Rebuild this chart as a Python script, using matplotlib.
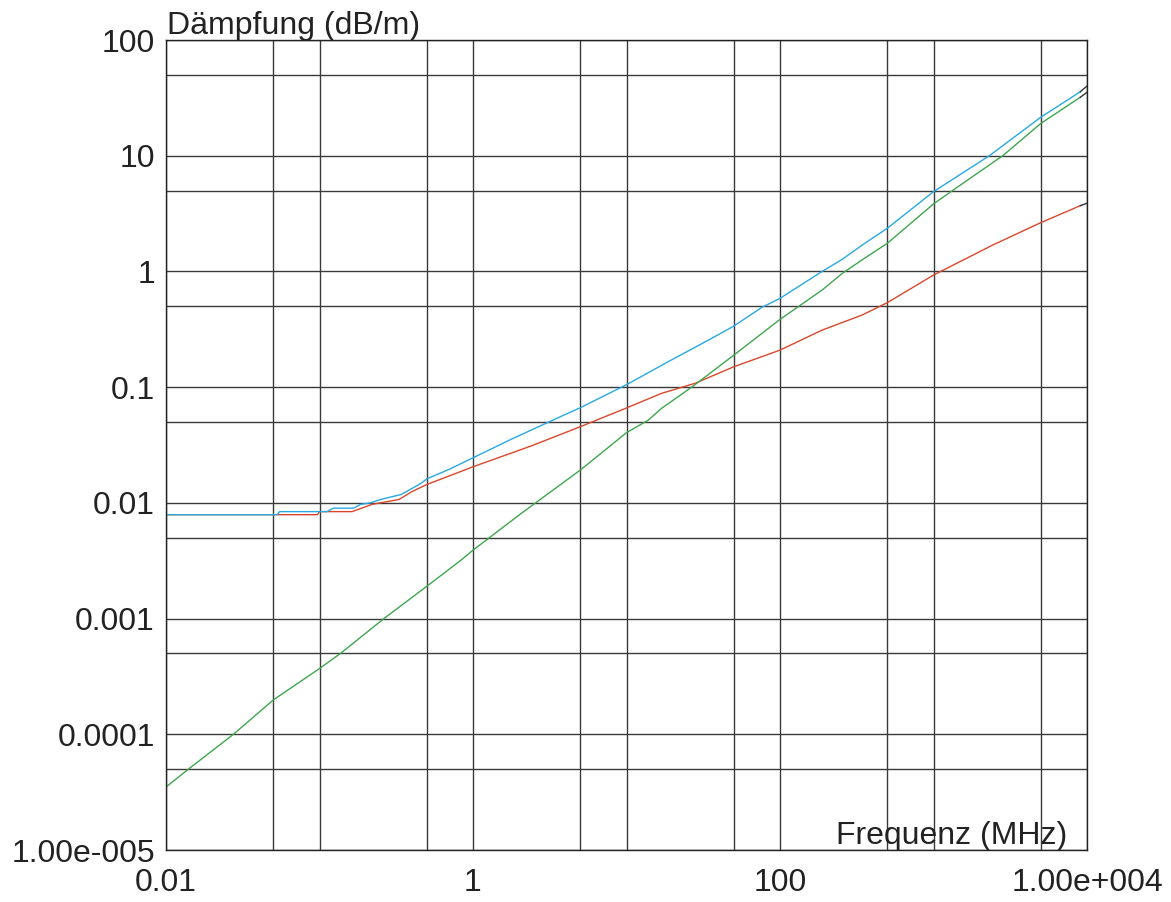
import numpy as np
import matplotlib
matplotlib.use("Agg")
import matplotlib.pyplot as plt
from matplotlib.ticker import FixedLocator, FixedFormatter, NullFormatter

plt.rcParams['font.family'] = ['Liberation Sans', 'DejaVu Sans']

# values (frequency in MHz, attenuation in dB/m)
blue_f = [0.01, 0.053, 0.055, 0.112, 0.123, 0.167, 0.185, 0.215, 0.25, 0.34, 0.457, 0.5, 0.7,
          1.0, 1.77, 3.4, 5.0, 10, 18.7, 34.2, 50, 76.3, 100, 188, 254, 343, 500, 1000,
          2312, 5000, 9040]
blue_v = [0.0079, 0.0079, 0.0084, 0.0084, 0.0090, 0.0090, 0.0097, 0.0100, 0.0107, 0.0118,
          0.0147, 0.0161, 0.0195, 0.0245, 0.0354, 0.0527, 0.0664, 0.105, 0.166, 0.255, 0.337,
          0.49, 0.585, 1.0, 1.27, 1.69, 2.36, 4.89, 10, 21.5, 35.7]

red_f = [0.01, 0.097, 0.10, 0.163, 0.22, 0.33, 0.40, 0.5, 1.0, 2.39, 5, 9.27, 16.9, 28, 50,
         100, 188, 343, 500, 1000, 2430, 5000, 9040]
red_v = [0.0079, 0.0079, 0.0084, 0.0084, 0.0097, 0.0107, 0.0125, 0.0144, 0.0205, 0.031,
         0.0455, 0.0634, 0.0883, 0.108, 0.15, 0.209, 0.311, 0.42, 0.537, 0.93, 1.69, 2.64, 3.7]

green_f = [0.01, 0.014, 0.0275, 0.05, 0.1, 0.137, 0.263, 0.5, 0.836, 1.0, 2.06, 5, 10, 13.9,
           16.9, 26.6, 50, 100, 188, 254, 343, 500, 1000, 1330, 2825, 5000, 9040]
green_v = [3.5e-5, 5e-5, 1e-4, 1.98e-4, 3.7e-4, 5e-4, 1e-3, 1.9e-3, 3.2e-3, 3.9e-3, 8.1e-3,
           0.0192, 0.0404, 0.052, 0.0655, 0.1, 0.189, 0.385, 0.69, 0.96, 1.26, 1.75, 3.83, 5,
           10, 19, 32]

# last segment of each curve is drawn in black in the original
tail_f = [9040, 10000]
blue_tail = [35.7, 40]
green_tail = [32, 35.3]
red_tail = [3.7, 3.88]

x_ticks = [0.01, 0.1, 1, 10, 100, 1000, 10000]
x_labels = ['0.01', '', '1', '', '100', '', '1.00e+004']
y_ticks = [1e-5, 1e-4, 1e-3, 1e-2, 1e-1, 1, 10, 100]
y_labels = ['1.00e-005', '0.0001', '0.001', '0.01', '0.1', '1', '10', '100']

fig = plt.figure(figsize=(11.71, 9.02), dpi=100)
ax = fig.add_axes([166 / 1171, 52 / 902, 921 / 1171, 810 / 902])

ax.set_xscale('log')
ax.set_yscale('log')
ax.set_xlim(0.01, 10000)
ax.set_ylim(1e-5, 100)

# red and green first, blue on top (blue hides red in the flat part)
ax.plot(red_f, red_v, color='#d9472b', lw=1.0)
ax.plot(green_f, green_v, color='#3ea64e', lw=1.0)
ax.plot(blue_f, blue_v, color='#27a9e1', lw=1.0)
for tv in (blue_tail, green_tail, red_tail):
    ax.plot(tail_f, tv, color='#333333', lw=1.0)

# grid at 1 and 5 per decade
ax.xaxis.set_major_locator(FixedLocator(x_ticks))
ax.xaxis.set_major_formatter(FixedFormatter(x_labels))
ax.xaxis.set_minor_locator(FixedLocator([5 * t for t in x_ticks[:-1]]))
ax.xaxis.set_minor_formatter(NullFormatter())
ax.yaxis.set_major_locator(FixedLocator(y_ticks))
ax.yaxis.set_major_formatter(FixedFormatter(y_labels))
ax.yaxis.set_minor_locator(FixedLocator([5 * t for t in y_ticks[:-1]]))
ax.yaxis.set_minor_formatter(NullFormatter())

ax.grid(True, which='both', color='#3a3a3a', lw=1.0)
ax.set_axisbelow(True)
ax.tick_params(which='both', length=0, labelsize=23, colors='#222222')
ax.tick_params(axis='x', pad=13)
ax.tick_params(axis='y', pad=8)
for s in ax.spines.values():
    s.set_color('#222222')
    s.set_linewidth(1.0)

ax.annotate('Dämpfung (dB/m)', xy=(0, 1), xycoords='axes fraction', xytext=(1, 6),
            textcoords='offset pixels', va='baseline', ha='left', fontsize=23, color='#222222',
            annotation_clip=False)
ax.annotate('Frequenz (MHz)', xy=(1, 0), xycoords='axes fraction', xytext=(-20, 6),
            textcoords='offset pixels', va='baseline', ha='right', fontsize=23, color='#222222',
            annotation_clip=False)

fig.savefig('out.png', dpi=100)
